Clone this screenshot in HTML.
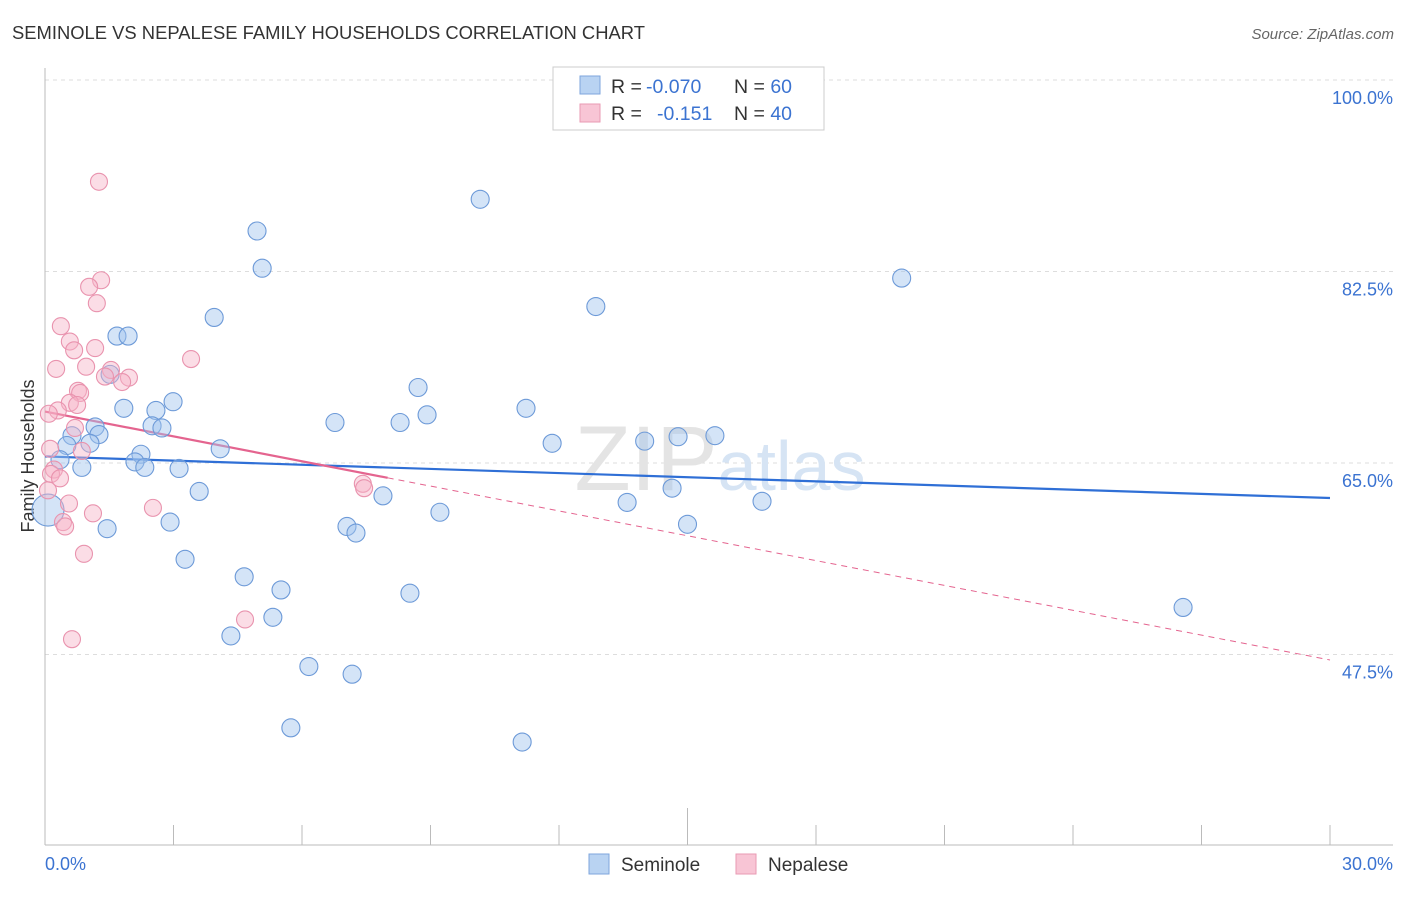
<!DOCTYPE html>
<html><head><meta charset="utf-8"><style>
body{margin:0;background:#fff;font-family:"Liberation Sans",sans-serif}
svg text{font-family:"Liberation Sans",sans-serif}
</style></head><body>
<svg id="chart" width="1406" height="892" xmlns="http://www.w3.org/2000/svg">
<text x="12" y="39" font-size="18.4" fill="#333">SEMINOLE VS NEPALESE FAMILY HOUSEHOLDS CORRELATION CHART</text>
<text x="1394" y="39" font-size="15" fill="#666" text-anchor="end" font-style="italic">Source: ZipAtlas.com</text>
<g id="grid"></g>
<text x="720" y="490" font-size="92" fill="#e4e4e4" text-anchor="middle" font-family="Liberation Serif">ZIP<tspan fill="#d6e4f4" font-family="Liberation Sans" font-size="70">atlas</tspan></text>
<line x1="45" y1="68" x2="45" y2="845" stroke="#bbb"/>
<line x1="45" y1="845" x2="1393" y2="845" stroke="#bbb"/>
<g id="xticks"></g>
<text x="45" y="870" font-size="18" fill="#3b73d1">0.0%</text>
<text x="1393" y="870" font-size="18" fill="#3b73d1" text-anchor="end">30.0%</text>
<text transform="translate(34,456) rotate(-90)" font-size="18" fill="#333" text-anchor="middle">Family Households</text>
<g id="trend"></g>
<g id="points"></g>
<g>
<rect x="553" y="67" width="271" height="63" fill="#fff" stroke="#ccc"/>
<rect x="580" y="76" width="20" height="18" fill="#b9d3f2" stroke="#7ea6dc"/>
<rect x="580" y="104" width="20" height="18" fill="#f8c5d5" stroke="#e99ab3"/>
<text x="611" y="93" font-size="19.5" fill="#333">R = <tspan x="646" fill="#3b73d1">-0.070</tspan><tspan x="734">N = </tspan><tspan fill="#3b73d1">60</tspan></text>
<text x="611" y="120" font-size="19.5" fill="#333">R = <tspan x="657" fill="#3b73d1">-0.151</tspan><tspan x="734">N = </tspan><tspan fill="#3b73d1">40</tspan></text>
</g>
<g>
<rect x="589" y="854" width="20" height="20" fill="#b9d3f2" stroke="#7ea6dc"/>
<text x="621" y="871" font-size="19" fill="#333">Seminole</text>
<rect x="736" y="854" width="20" height="20" fill="#f8c5d5" stroke="#e99ab3"/>
<text x="768" y="871" font-size="19" fill="#333">Nepalese</text>
</g>
</svg>
<script>
const yTicks=[100,82.5,65,47.5];
const yTickLabels=["100.0%","82.5%","65.0%","47.5%"];
const seminoleX=[10.16,4.95,5.07,20.0,12.86,3.95,1.68,1.94,1.52,8.71,2.99,1.84,2.59,11.23,8.92,6.77,8.29,1.17,2.50,2.73,0.63,1.26,14.78,15.64,1.05,11.84,14.0,0.51,4.09,0.35,2.24,2.10,2.33,0.86,3.13,14.64,3.60,7.89,13.59,16.74,9.22,0.07,2.92,15.0,7.05,1.45,7.26,3.27,4.65,5.51,8.52,26.57,5.32,4.34,6.16,7.17,5.74,11.14];
const seminoleY=[89.1,86.2,82.8,81.9,79.3,78.3,76.6,76.6,73.1,71.9,70.6,70.0,69.8,70.0,69.4,68.7,68.7,68.3,68.4,68.2,67.5,67.6,67.4,67.5,66.8,66.8,67.0,66.6,66.3,65.3,65.8,65.1,64.6,64.6,64.5,62.7,62.4,62.0,61.4,61.5,60.5,60.7,59.6,59.4,59.2,59.0,58.6,56.2,54.6,53.4,53.1,51.8,50.9,49.2,46.4,45.7,40.8,39.5];
const nepaleseX=[1.26,1.31,1.03,1.21,0.37,0.58,0.68,1.17,3.41,0.26,0.96,1.54,1.40,1.96,1.80,0.77,0.82,0.58,0.75,0.30,0.09,0.70,0.86,0.12,0.21,0.14,0.35,0.07,7.42,7.45,0.56,2.52,1.12,0.42,0.47,0.91,4.67,0.63];
const nepaleseY=[90.7,81.7,81.1,79.6,77.5,76.1,75.3,75.5,74.5,73.6,73.8,73.5,72.9,72.8,72.4,71.6,71.4,70.5,70.3,69.8,69.5,68.2,66.1,66.3,64.4,64.0,63.6,62.5,63.1,62.7,61.3,60.9,60.4,59.6,59.2,56.7,50.7,48.9];
const seminoleTrend=[65.6,61.8];
const nepaleseTrend=[69.7,47.0];
const NS="http://www.w3.org/2000/svg";
const xs=v=>45+v/30*1285;
const ys=v=>80+(100-v)/17.5*191.5;
function mk(tag,attrs,parent){const e=document.createElementNS(NS,tag);for(const k in attrs)e.setAttribute(k,attrs[k]);document.getElementById(parent).appendChild(e);return e;}
yTicks.forEach((t,i)=>{
 const l=mk('line',{x1:45,x2:1393,y1:ys(t),y2:ys(t),stroke:'#ddd','stroke-dasharray':'4,4'},'grid');
 
 
 const tx=mk('text',{x:1393,y:ys(t)+24,'font-size':18,fill:'#3b73d1','text-anchor':'end'},'grid');
 tx.textContent=yTickLabels[i];
 
 
});
for(let i=0;i<=10;i++){
 const v=i*3;
 const l=mk('line',{x1:xs(v),x2:xs(v),y1:i==5?808:825,y2:845,stroke:'#bbb'},'xticks');
 
 
}
let t1=mk('line',{x1:xs(0),y1:ys(seminoleTrend[0]),x2:xs(30),y2:ys(seminoleTrend[1]),stroke:'#2f6fd6','stroke-width':2.2},'trend');


const pAt=x=>nepaleseTrend[0]+(nepaleseTrend[1]-nepaleseTrend[0])*x/30;
let t2=mk('line',{x1:xs(0),y1:ys(pAt(0)),x2:xs(8),y2:ys(pAt(8)),stroke:'#e4648f','stroke-width':2.2},'trend');


let t3=mk('line',{x1:xs(8),y1:ys(pAt(8)),x2:xs(30),y2:ys(pAt(30)),stroke:'#e4648f','stroke-width':1,'stroke-dasharray':'6,5'},'trend');


seminoleX.forEach((x,i)=>{
 const c=mk('circle',{cx:xs(x),cy:ys(seminoleY[i]),r:i==41?16:9,fill:'rgba(160,196,238,0.45)',stroke:'#6d9ad8','stroke-width':1.1},'points');
 
 
});
nepaleseX.forEach((x,i)=>{
 const c=mk('circle',{cx:xs(x),cy:ys(nepaleseY[i]),r:8.5,fill:'rgba(246,180,200,0.45)',stroke:'#e993ae','stroke-width':1.1},'points');
 
 
});
</script>
</body></html>
